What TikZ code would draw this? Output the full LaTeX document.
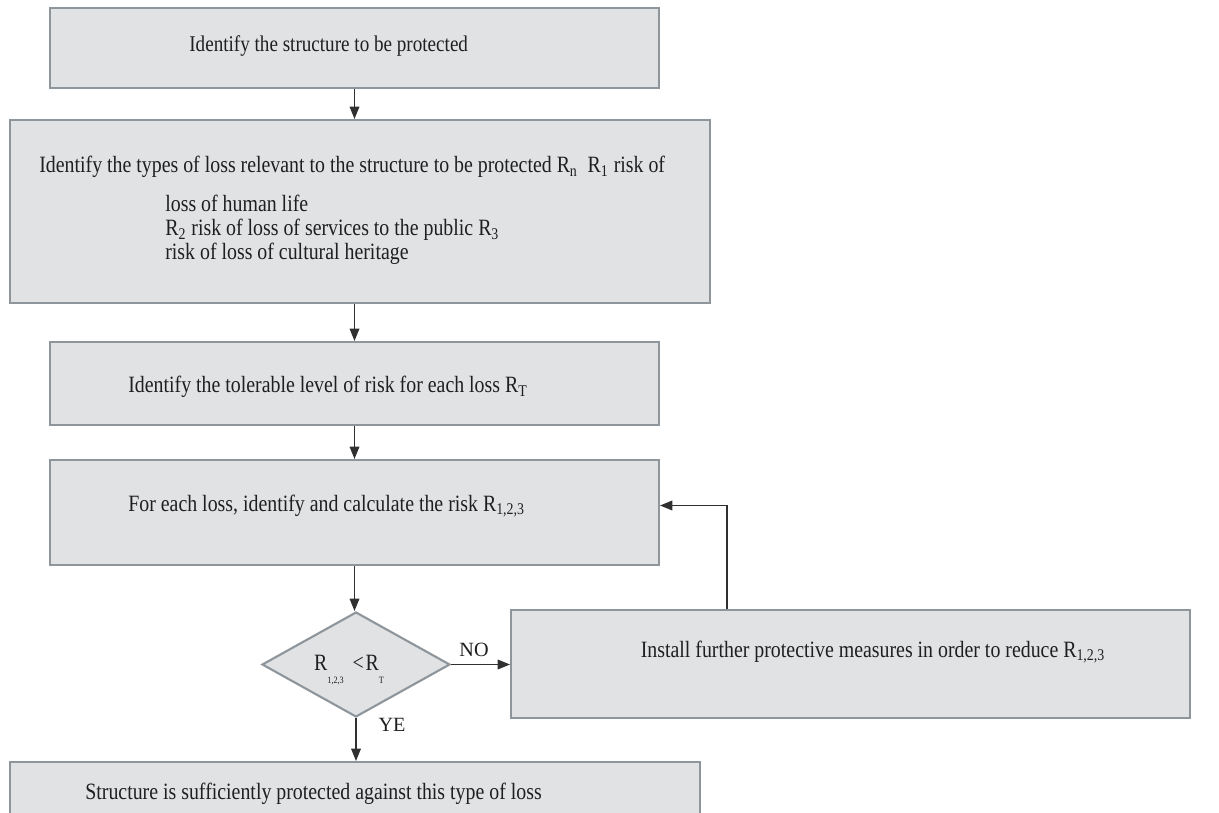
\documentclass[tikz,border=0pt]{standalone}
\usepackage{fontspec}
\setmainfont{Liberation Serif}
\newfontfamily\narrowfont[FakeStretch=0.85]{Liberation Serif}
\usetikzlibrary{arrows.meta,shapes.geometric}
\definecolor{boxfill}{HTML}{E1E2E4}
\definecolor{boxline}{HTML}{8E959B}
\definecolor{flowline}{HTML}{303030}
\newcommand{\lowsub}[1]{\raisebox{-7pt}{\fontsize{5.5}{6}\selectfont #1}}

\begin{document}
\begin{tikzpicture}[x=0.02cm,y=-0.02cm,
    box/.style={rectangle,draw=boxline,fill=boxfill,line width=1.2pt,inner sep=0pt},
    decision/.style={diamond,draw=boxline,fill=boxfill,line width=1.2pt,inner sep=0pt},
    flow/.style={draw=flowline,line width=0.7pt,-{Triangle[length=7pt,width=5.5pt]}},
    txt/.style={font=\narrowfont\fontsize{13.3}{13.5}\selectfont,inner sep=0pt,text=black!88},
    tag/.style={font=\fontsize{11.5}{13}\selectfont,inner sep=0pt,text=black!88}]
    \useasboundingbox (0,0) rectangle (1219,813);
    \clip (0,0) rectangle (1219,813);

    % boxes
    \node[box,minimum width=12.18cm,minimum height=1.6cm] (ident) at (354.5,48) {};
    \node[box,minimum width=14cm,minimum height=3.66cm] (types) at (360,211.5) {};
    \node[box,minimum width=12.18cm,minimum height=1.66cm] (toler) at (354.5,383.5) {};
    \node[box,minimum width=12.18cm,minimum height=2.1cm] (calc) at (354.5,512.5) {};
    \node[decision,minimum width=3.76cm,minimum height=2.1cm] (check) at (356,664.5) {};
    \node[box,minimum width=13.58cm,minimum height=2.16cm] (install) at (850.5,664) {};
    \node[box,minimum width=13.8cm,minimum height=1.6cm] (done) at (355,802) {};

    % texts
    \node[txt,font=\narrowfont\fontsize{12.8}{13.5}\selectfont,anchor=west] (identtxt) at (189,46) {Identify the structure to be protected};
    \node[txt,anchor=west] (typestxt) at (39,167) {Identify the types of loss relevant to the structure to be protected R\textsubscript{n}\ \ R\textsubscript{1} risk of};
    \node[txt,anchor=west,align=left] (typeslist) at (165,230) {loss of human life\\R\textsubscript{2} risk of loss of services to the public R\textsubscript{3}\\risk of loss of cultural heritage};
    \node[txt,anchor=west] (tolertxt) at (128,387) {Identify the tolerable level of risk for each loss R\textsubscript{T}};
    \node[txt,anchor=west] (calctxt) at (128,506) {For each loss, identify and calculate the risk R\textsubscript{1,2,3}};
    \node[txt] (checktxt) at (349,670) {R\lowsub{1,2,3}\hspace{5pt}<\hspace{1pt}R\lowsub{T}};
    \node[txt] (installtxt) at (873,652) {Install further protective measures in order to reduce R\textsubscript{1,2,3}};
    \node[txt,anchor=west] (donetxt) at (85,794) {Structure is sufficiently protected against this type of loss};
    \node[tag] (no) at (474,650) {NO};
    \node[tag] (ye) at (392,725) {YE};

    % connectors
    \draw[flow] (ident.south) -- (ident.south |- types.north);
    \draw[flow] (ident.south |- types.south) -- (toler.north);
    \draw[flow] (toler.south) -- (calc.north);
    \draw[flow] (calc.south) -- (calc.south |- check.north);
    \draw[flow] (check.east) -- (install.west |- check.east);
    \draw[flow] (check.south) -- (check.south |- done.north);
    \draw[flow] ([xshift=-2.47cm]install.north) |- ([yshift=0.14cm]calc.east);
\end{tikzpicture}
\end{document}
